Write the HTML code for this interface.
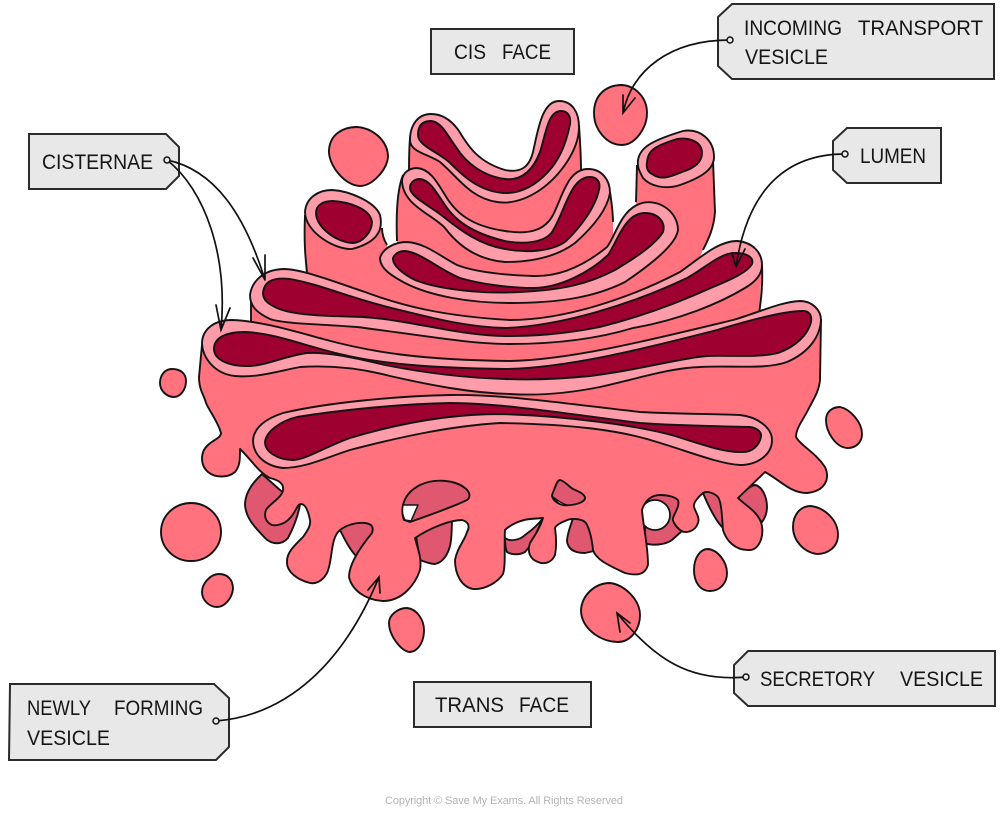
<!DOCTYPE html>
<html><head><meta charset="utf-8"><style>
html,body{margin:0;padding:0;background:#fff}
svg{display:block}
text{font-family:"Liberation Sans",sans-serif;font-size:21px;fill:#151515}
.b{fill:#FF727E;stroke:#141414;stroke-width:1.9;stroke-linejoin:round}
.n{fill:#FF727E;stroke:none}
.e{fill:none;stroke:#141414;stroke-width:1.9}
.r{fill:#FF9CA9;stroke:#141414;stroke-width:1.9;stroke-linejoin:round}
.l{fill:#9E0030;stroke:#141414;stroke-width:1.9;stroke-linejoin:round}
.d{fill:#DF586F;stroke:#141414;stroke-width:1.9;stroke-linejoin:round}
.w{fill:#fff;stroke:#141414;stroke-width:1.5;stroke-linejoin:round}
.t{fill:#E8E8E9;stroke:#2b2b2b;stroke-width:2}
.a{fill:none;stroke:#111;stroke-width:1.7;stroke-linecap:round}
.o{fill:#E8E8E9;stroke:#111;stroke-width:1.5}
</style></head><body>
<svg width="1006" height="813" viewBox="0 0 1006 813" xmlns="http://www.w3.org/2000/svg">
<!-- top cisterna 1 -->
<path class="n" d="M409 135L409 250L581 250L580 125L565 140L545 175L505 190L450 170Z"/>
<path class="e" d="M410 138C409 150 409 160 409 172M579 125C580 140 581 155 581 170"/>
<path class="r" d="M410 140C410 125 418 114 431 114C443 114 452 121 459 131C468 146 478 162 505 170C520 173 529 168 533 152C538 130 542 101 559 101C572 101 579 112 579 127C579 150 560 176 540 190C525 200 510 204 497 202C470 198 458 177 440 162C428 154 410 152 410 140Z"/>
<path class="l" d="M418 135C418 125 423 121 431 121C442 122 447 135 456 147C466 163 483 176 505 179C522 181 533 170 540 152C546 133 548 111 561 111C568 111 571 116 570 124C567 140 561 158 548 172C535 186 520 194 503 193C480 191 465 178 450 163C440 153 418 146 418 135Z"/>
<!-- cisterna 2 -->
<path class="n" d="M403 175L417 190L445 215L500 245L550 225L567 205L590 180L610 190L613 222L613 300L397 300L397 240C396 215 397 190 403 175Z"/>
<path class="e" d="M403 175C397 190 396 215 397 241M610 192C612 205 613 215 613 222"/>
<path class="r" d="M402 180C403 172 410 168 417 168C430 169 437 182 445 195C455 212 470 226 505 231C530 235 545 230 553 215C563 195 568 169 588 169C602 169 610 180 610 193C607 210 592 228 575 243C555 258 530 262 505 262C480 260 460 248 445 228C432 214 402 205 402 180Z"/>
<path class="l" d="M410 188C410 182 415 179 420 179C430 180 436 192 445 205C458 225 480 235 505 241C525 245 545 242 552 232C565 212 570 177 590 177C597 177 601 182 599 190C595 208 580 228 565 242C550 252 525 253 505 249C480 245 460 230 445 218C432 207 410 197 410 188Z"/>
<!-- left tube -->
<path class="n" d="M305 215C304 240 305 260 307 300L400 300L387 245C384 240 382 235 382 228Z"/>
<path class="e" d="M305 215C304 240 305 255 307 272M382 228C382 235 384 240 387 245"/>
<path class="r" d="M305 212C306 198 318 190 332 190C350 191 375 202 380 215C384 232 375 243 352 249C335 250 305 232 305 212Z"/>
<path class="l" d="M316 213C316 205 323 201 333 201C348 202 370 208 372 222C372 232 362 243 353 243C338 243 316 228 316 213Z"/>
<!-- right tube -->
<path class="n" d="M636 165L636 205L630 290L690 280L703 250C710 238 715 230 715 210L713 160Z"/>
<path class="e" d="M637 165L636 202M713 160L715 212C714 228 708 240 703 250"/>
<path class="r" d="M638 160C640 148 650 141 683 131C700 128 714 140 714 157C714 170 700 178 680 185C665 190 650 186 643 178C640 172 637 168 638 160Z"/>
<path class="l" d="M647 162C648 150 655 146 677 139C690 137 702 142 702 153C702 162 695 168 682 172C668 178 660 180 652 174C648 172 646 168 647 162Z"/>
<!-- cisterna 3 -->
<path class="n" d="M385 262L470 285L530 290L615 265L660 235L700 255L700 300L500 335L330 295Z"/>
<path class="r" d="M380 258C383 248 395 242 407 242C425 243 440 256 457 265C475 272 505 275 533 276C560 277 585 265 607 247C615 237 620 213 637 205C655 196 678 210 678 230C676 245 650 265 625 282C595 297 560 303 510 303C470 303 430 296 405 283C390 275 380 268 380 258Z"/>
<path class="l" d="M393 258C395 253 400 251 405 251C420 252 440 270 460 278C480 284 510 288 533 288C560 288 590 272 608 255C618 240 625 213 645 213C658 213 666 222 663 232C655 245 635 258 615 270C590 283 565 290 520 292C485 294 440 290 415 280C403 274 392 265 393 258Z"/>
<!-- cisterna 4 -->
<path class="n" d="M251 295L251 330L400 370L700 350L759 318L762 265L500 340Z"/>
<path class="e" d="M251 297L251 322M762 265C763 285 761 300 759 314"/>
<path class="r" d="M250 295C252 280 265 269 285 269C305 270 335 282 365 292C400 305 440 316 510 320C565 320 630 298 680 272C700 258 718 241 737 241C752 242 762 252 762 265C762 275 755 282 745 288C720 303 680 320 633 328C600 338 560 344 510 344C470 344 420 335 357 327C320 324 285 324 270 319C255 312 250 305 250 295Z"/>
<path class="l" d="M263 293C264 282 272 277 290 279C320 284 355 300 400 310C440 320 470 327 505 328C560 326 630 305 687 278C705 268 720 253 735 253C748 253 754 258 752 264C748 272 730 280 713 287C680 302 640 317 600 327C560 335 530 336 505 336C460 336 410 320 363 317C330 316 295 316 277 308C268 304 263 300 263 293Z"/>
<!-- dark parts behind body -->
<path class="d" d="M262 474C250 485 245 495 245 505C246 520 258 530 265 538C272 545 282 545 288 538C295 525 298 515 300 505L280 490Z"/>
<path class="d" d="M340 530C345 540 350 550 357 557L376 530L365 512L345 512Z"/>
<path class="d" d="M415 530L420 560C425 562 430 564 435 564C445 562 450 550 451 540C452 532 452 525 452 512L430 512Z"/>
<path class="d" d="M505 538C505 545 506 550 507 552C512 555 520 555 525 552L531 545L543 518C538 525 532 530 525 535C520 540 510 542 505 538Z"/>
<path class="d" d="M577 508C572 520 567 535 567 541C568 550 575 553 585 553L594 551L590 508Z"/>
<path class="d" d="M645 500L645 543C652 546 665 545 672 540L683 530L678 498L660 490Z"/>
<circle cx="655" cy="515" r="15" fill="#fff" stroke="#141414" stroke-width="1.8"/>
<path class="d" d="M703 493C708 505 715 520 723 528L725 510L715 488Z"/>
<path class="d" d="M738 498C745 490 752 485 755 485C762 486 767 497 767 507C767 513 765 518 762 522L750 510Z"/>
<!-- main body -->
<path class="b" d="M821 320L820 380C819 392 812 402 808 410C803 420 796 428 796 437C800 445 815 452 825 467C830 478 826 491 807 493C790 493 780 480 765 472L738 498C745 505 755 510 760 520C766 532 760 550 750 550C735 551 726 540 723 530C722 520 722 500 717 496C712 492 706 491 703 493C698 497 693 503 694 507C696 513 700 518 698 523C695 532 685 534 680 530C675 526 672 520 673 518C675 512 680 506 678 500C675 497 668 495 660 495C652 495 645 500 642 510C643 525 648 545 648 565C645 575 637 576 625 573C610 566 596 560 593 550C592 540 590 530 586 523C582 518 570 518 565 521C560 523 556 525 555 528C556 535 557 545 555 555C552 562 545 565 538 562C530 559 527 552 530 543C535 535 540 528 543 518L530 519C520 520 510 525 505 530C504 545 506 565 503 574C498 582 485 590 473 589C462 587 455 575 455 560C457 548 465 540 467 532C470 527 469 522 462 520C450 520 430 528 415 538C418 550 422 558 420 570C415 585 402 601 383 601C365 600 352 590 349 577C349 565 358 550 372 533C374 527 372 524 365 523C355 522 345 526 340 530C330 538 333 560 327 573C322 582 315 584 310 583C298 580 286 572 287 561C287 552 295 545 303 537C308 530 311 525 310 520C308 510 305 504 301 504C297 504 296 512 290 518C285 524 277 526 272 525C265 522 264 515 266 510C269 504 282 498 283 490C284 483 278 480 270 478C258 472 250 458 240 449C240 460 240 466 235 472C228 478 215 478 208 472C200 465 200 452 208 445C213 440 221 438 221 433C218 422 210 412 206 403C204 395 199 390 199 377L202 345C225 360 290 345 340 360C400 375 450 380 520 378C600 375 700 345 821 320Z"/>
<!-- cisterna 5 -->
<path class="r" d="M202 342C203 330 213 320 232 320C260 321 290 330 323 339C370 352 420 360 510 361C570 360 650 340 733 320C760 312 780 302 800 301C812 301 821 310 821 320C820 336 810 352 787 362C765 370 730 365 700 367C670 368 640 378 600 387C570 393 540 396 510 394C470 393 430 385 390 376C360 368 330 365 300 367C275 372 255 378 235 376C215 374 202 358 202 342Z"/>
<path class="l" d="M214 349C214 338 225 332 245 332C275 333 305 346 340 354C385 365 440 368 505 369C570 368 650 347 717 330C750 320 785 311 803 311C810 311 812 316 811 322C808 335 795 347 778 353C758 358 730 355 707 356C680 358 640 370 590 376C560 379 530 380 505 379C470 378 430 374 385 365C355 358 330 352 307 353C285 356 268 365 250 366C230 367 214 360 214 349Z"/>
<!-- cisterna 6 -->
<path class="r" d="M253 440C254 428 265 419 283 413C330 402 400 396 450 395C500 394 560 403 640 412C680 414 720 414 740 415C758 417 772 428 772 440C772 455 757 465 740 465C720 464 690 452 657 442C620 430 570 424 500 423C450 426 400 437 350 450C325 458 305 468 283 468C265 466 253 455 253 440Z"/>
<path class="l" d="M265 442C266 432 280 421 297 417C340 410 400 404 450 403C500 403 570 414 640 423C680 426 720 426 750 427C757 428 762 432 761 437C759 446 752 452 743 452C725 453 700 444 675 436C640 426 570 416 500 414C450 414 400 423 350 438C325 447 305 460 293 460C278 460 265 452 265 442Z"/>
<!-- holes -->
<path class="d" d="M403 505C405 497 410 490 420 485C435 478 455 480 465 488C470 492 471 497 467 500C455 506 430 515 410 522L404 520C402 515 402 510 403 505Z"/>
<path class="w" d="M403 505L418 505L411 521L405 520C402 515 402 510 403 505Z"/>
<path class="d" d="M552 495C555 488 557 480 560 480C565 481 568 486 573 489C580 492 586 495 585 499C582 504 570 506 563 505C558 504 552 500 552 495Z"/>
<path class="w" d="M553 497C557 500 562 504 567 505C562 506 558 504 553 497Z"/>
<!-- vesicles -->
<path class="b" d="M329 150C330 135 342 127 357 127C372 128 388 140 388 157C387 170 372 186 360 186C345 186 328 165 329 150Z"/>
<path class="b" d="M594 113C594 95 606 85 622 85C636 86 647 98 647 113C647 128 635 145 622 145C607 145 594 130 594 113Z"/>
<path class="b" d="M160 383C160 375 165 369 172 369C180 369 186 373 186 381C186 390 180 397 174 397C167 397 160 391 160 383Z"/>
<ellipse class="b" cx="191" cy="532" rx="30" ry="29"/>
<path class="b" d="M202 592C202 584 210 574 219 574C228 574 233 580 233 589C232 598 225 607 217 607C209 607 202 600 202 592Z"/>
<path class="b" d="M389 623C389 615 398 608 407 608C417 609 424 620 424 630C424 642 418 652 409 652C400 650 389 635 389 623Z"/>
<path class="b" d="M581 610C582 595 595 583 610 583C625 585 640 600 640 615C640 630 630 642 618 642C600 642 581 628 581 610Z"/>
<path class="b" d="M694 570C694 558 700 549 708 549C718 550 727 562 727 573C727 583 720 591 710 591C700 591 694 582 694 570Z"/>
<path class="b" d="M793 527C793 515 800 506 811 506C825 508 838 520 838 535C838 547 828 554 817 554C803 552 793 540 793 527Z"/>
<path class="b" d="M826 420C826 412 832 407 840 407C850 409 862 422 862 434C862 443 855 448 848 448C836 448 826 432 826 420Z"/>
<!-- labels -->
<polygon class="t" points="431,29 574,29 574,74 431,74"/>
<text x="454" y="59" textLength="32" lengthAdjust="spacingAndGlyphs">CIS</text><text x="502" y="59" textLength="49" lengthAdjust="spacingAndGlyphs">FACE</text>
<polygon class="t" points="718,17 732,4 994,4 994,79 732,79 718,66"/>
<text x="744" y="35" textLength="98" lengthAdjust="spacingAndGlyphs">INCOMING</text><text x="858" y="35" textLength="125" lengthAdjust="spacingAndGlyphs">TRANSPORT</text>
<text x="745" y="64" textLength="83" lengthAdjust="spacingAndGlyphs">VESICLE</text>
<polygon class="t" points="833,141 847,128 941,128 941,183 847,183 833,170"/>
<text x="860" y="163" textLength="66" lengthAdjust="spacingAndGlyphs">LUMEN</text>
<polygon class="t" points="29,134 166,134 179,147 179,176 166,189 29,189"/>
<text x="42" y="169" textLength="111" lengthAdjust="spacingAndGlyphs">CISTERNAE</text>
<polygon class="t" points="10,684 214,684 229,698 229,747 216,760 9,760"/>
<text x="27" y="715" textLength="64" lengthAdjust="spacingAndGlyphs">NEWLY</text><text x="114" y="715" textLength="89" lengthAdjust="spacingAndGlyphs">FORMING</text>
<text x="27" y="745" textLength="83" lengthAdjust="spacingAndGlyphs">VESICLE</text>
<polygon class="t" points="748,651 995,651 995,706 748,706 734,693 734,665"/>
<text x="760" y="686" textLength="115" lengthAdjust="spacingAndGlyphs">SECRETORY</text><text x="900" y="686" textLength="83" lengthAdjust="spacingAndGlyphs">VESICLE</text>
<polygon class="t" points="414,682 591,682 591,727 414,727"/>
<text x="435" y="712" textLength="69" lengthAdjust="spacingAndGlyphs">TRANS</text><text x="519" y="712" textLength="50" lengthAdjust="spacingAndGlyphs">FACE</text>
<text x="385" y="804" textLength="238" style="font-size:11px;fill:#b4b4b4">Copyright © Save My Exams. All Rights Reserved</text>
<!-- connectors -->
<path class="a" d="M730 40C670 40 632 70 623 113M623 95L623 113L635 98"/>
<circle class="o" cx="730" cy="40" r="3"/>
<path class="a" d="M845 154C790 154 748 185 736 267M732 253L736 267L745 249"/>
<circle class="o" cx="845" cy="154" r="3"/>
<path class="a" d="M167 160C205 190 228 255 221 330M216 305L221 330L230 308"/>
<path class="a" d="M167 160C215 170 245 215 265 280M253 258L265 280L265 255"/>
<circle class="o" cx="167" cy="160" r="3"/>
<path class="a" d="M216 721C290 715 345 660 379 577M368 590L379 577L380 593"/>
<circle class="o" cx="216" cy="721" r="3"/>
<path class="a" d="M746 677C690 682 655 660 617 613M630 623L617 613L620 632"/>
<circle class="o" cx="746" cy="677" r="3"/>
</svg>
</body></html>
